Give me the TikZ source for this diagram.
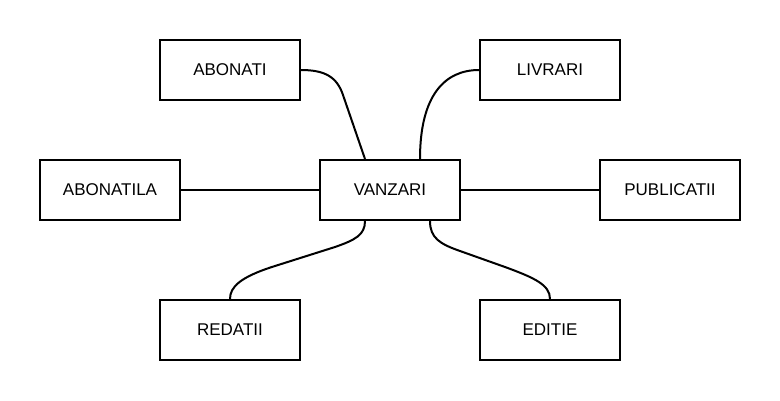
\documentclass[tikz,border=0pt]{standalone}
\usepackage{fontspec}
\setmainfont{Liberation Sans}
\begin{document}
\begin{tikzpicture}[x=1pt,y=-1pt,
  ent/.style={draw=black,line width=2pt,minimum width=140pt,minimum height=60pt,inner sep=0pt,font=\fontsize{17}{20}\selectfont,fill=white},
  conn/.style={draw=black,line width=2pt}]
\useasboundingbox (0,0) rectangle (780,400);
\node[ent] (abonati) at (230,70) {ABONATI};
\node[ent] (livrari) at (550,70) {LIVRARI};
\node[ent] (abonatila) at (110,190) {ABONATILA};
\node[ent] (vanzari) at (390,190) {VANZARI};
\node[ent] (publicatii) at (670,190) {PUBLICATII};
\node[ent] (redatii) at (230,330) {REDATII};
\node[ent] (editie) at (550,330) {EDITIE};
\coordinate (vt1) at ([xshift=-25pt]vanzari.north);
\coordinate (vt2) at ([xshift=30pt]vanzari.north);
\coordinate (vb1) at ([xshift=-25pt]vanzari.south);
\coordinate (vb2) at ([xshift=40pt]vanzari.south);
\draw[conn] (abonati.east) .. controls (325,70) and (337,77) .. (343,95) -- (vt1);
\draw[conn] (livrari.west) .. controls (445,70) and (420,95) .. (vt2);
\draw[conn] (abonatila.east) -- (vanzari.west);
\draw[conn] (vanzari.east) -- (publicatii.west);
\draw[conn] (vb1) .. controls (365,235) and (355,240) .. (335,247) -- (275,266) .. controls (240,277) and (230,287) .. (redatii.north);
\draw[conn] (vb2) .. controls (430,238) and (440,244) .. (460,251) -- (505,267) .. controls (535,278) and (550,285) .. (editie.north);
\end{tikzpicture}
\end{document}
